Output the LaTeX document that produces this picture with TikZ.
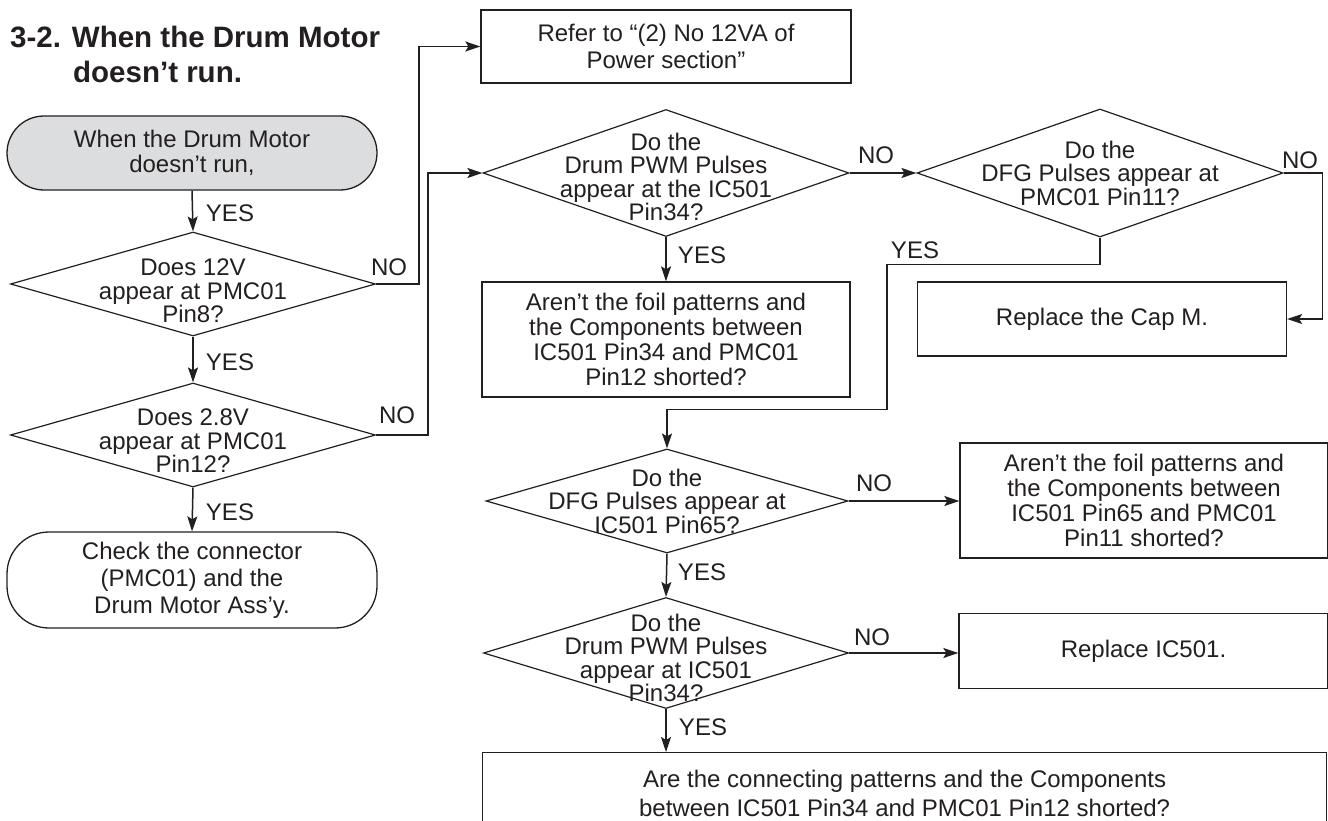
\documentclass[tikz,border=0pt]{standalone}
\usepackage{fontspec}
\setmainfont{Liberation Sans}
\usetikzlibrary{shapes.geometric,arrows.meta}
\definecolor{ink}{HTML}{231F20}
\definecolor{startgray}{HTML}{DCDDDE}
\begin{document}
\begin{tikzpicture}[x=1pt,y=-1pt,
  every node/.style={text=ink, font=\fontsize{24}{25}\selectfont},
  box/.style={draw=ink, line width=1.3pt, rectangle, align=center, inner sep=0pt},
  term/.style={box, rounded corners=37pt},
  dia/.style={draw=ink, line width=1.2pt, diamond, inner sep=0pt},
  dtext/.style={align=center, font=\fontsize{24}{23.5}\selectfont},
  arr/.style={draw=ink, line width=1.5pt, -{Stealth[length=15pt,width=10pt,inset=3pt]}},
  lbl/.style={font=\fontsize{24}{25}\selectfont},
  ttl/.style={anchor=base west, inner sep=0pt, font=\bfseries\fontsize{29.5}{34}\selectfont}]
\useasboundingbox (0,0) rectangle (1328,821);

% title
\node[ttl] (title1) at (10,48) {3-2. When the Drum Motor};
\node[ttl] (title2) at (73,83) {doesn’t run.};

% left column
\node[term, fill=startgray, minimum width=370, minimum height=74] (start) at (192,153) {When the Drum Motor\\doesn’t run,};
\node[dia, minimum width=365, minimum height=104,
  label={[dtext, yshift=-7pt]center:Does 12V\\appear at PMC01\\Pin8?}] (d1) at (193,284) {};
\node[dia, minimum width=365, minimum height=104,
  label={[dtext, yshift=-6pt]center:Does 2.8V\\appear at PMC01\\Pin12?}] (d2) at (193,435) {};
\node[term, rounded corners=42pt, minimum width=370, minimum height=96,
  font=\fontsize{24}{27}\selectfont] (end) at (192,580) {Check the connector\\(PMC01) and the\\Drum Motor Ass’y.};

% middle column
\node[box, minimum width=370, minimum height=73,
  font=\fontsize{24}{27.5}\selectfont] (box1) at (666,46.5) {Refer to “(2) No 12VA of\\Power section”};
\node[dia, minimum width=366, minimum height=127,
  label={[dtext, yshift=-4pt]center:Do the\\Drum PWM Pulses\\appear at the IC501\\Pin34?}] (d3) at (666,173) {};
\node[box, minimum width=368, minimum height=115] (box2) at (666,339.5)
  {Aren’t the foil patterns and\\the Components between\\IC501 Pin34 and PMC01\\Pin12 shorted?};
\node[dia, minimum width=362, minimum height=104,
  label={[dtext]center:Do the\\DFG Pulses appear at\\IC501 Pin65?}] (d5) at (667,501) {};
\node[dia, minimum width=365, minimum height=111,
  label={[dtext, yshift=-5pt]center:Do the\\Drum PWM Pulses\\appear at IC501\\Pin34?}] (d6) at (666,653) {};
\node[box, anchor=north west, minimum width=844, minimum height=81,
  font=\fontsize{24}{29}\selectfont] (box6) at (482,752)
  {Are the connecting patterns and the Components\\between IC501 Pin34 and PMC01 Pin12 shorted?};

% right column
\node[dia, minimum width=366, minimum height=128,
  label={[dtext]center:Do the\\DFG Pulses appear at\\PMC01 Pin11?}] (d4) at (1100,173) {};
\node[box, minimum width=369, minimum height=74] (box3) at (1102,319) {Replace the Cap M.};
\node[box, minimum width=368, minimum height=115] (box4) at (1144,500.5)
  {Aren’t the foil patterns and\\the Components between\\IC501 Pin65 and PMC01\\Pin11 shorted?};
\node[box, minimum width=369, minimum height=75] (box5) at (1143.5,651) {Replace IC501.};

% connectors
\draw[arr] (start.south) -- (d1.north);
\draw[arr] (d1.south) -- (d2.north);
\draw[arr] (d2.south) -- (end.north);
\draw[arr] (d1.east) -- ++(43,0) |- (box1.west);
\draw[arr] (d2.east) -- ++(52,0) |- (d3.west);
\draw[arr] (d3.east) -- (d4.west);
\draw[arr] (d3.south) -- (box2.north);
\draw[arr] (d4.east) -- ++(39,0) |- (box3.east);
\draw[arr] (d4.south) -- ++(0,27) -- ++(-213,0) -- ++(0,145) -| (d5.north);
\draw[arr] (d5.east) -- (d5.east -| box4.west);
\draw[arr] (d5.south) -- (d6.north);
\draw[arr] (d6.east) -- (d6.east -| box5.west);
\draw[arr] (d6.south) -- (box6.north west -| d6.south);

% labels
\node[lbl] (y1) at (230,213) {YES};
\node[lbl] (y2) at (230,362) {YES};
\node[lbl] (y3) at (230,512) {YES};
\node[lbl] (n1) at (389,267) {NO};
\node[lbl] (n2) at (397,415) {NO};
\node[lbl] (n3) at (876,155) {NO};
\node[lbl] (y4) at (702,255) {YES};
\node[lbl] (n4) at (1300,160) {NO};
\node[lbl] (y5) at (915,250) {YES};
\node[lbl] (n5) at (874,483) {NO};
\node[lbl] (y6) at (702,572) {YES};
\node[lbl] (n6) at (872,637) {NO};
\node[lbl] (y7) at (703,727) {YES};
\end{tikzpicture}
\end{document}
